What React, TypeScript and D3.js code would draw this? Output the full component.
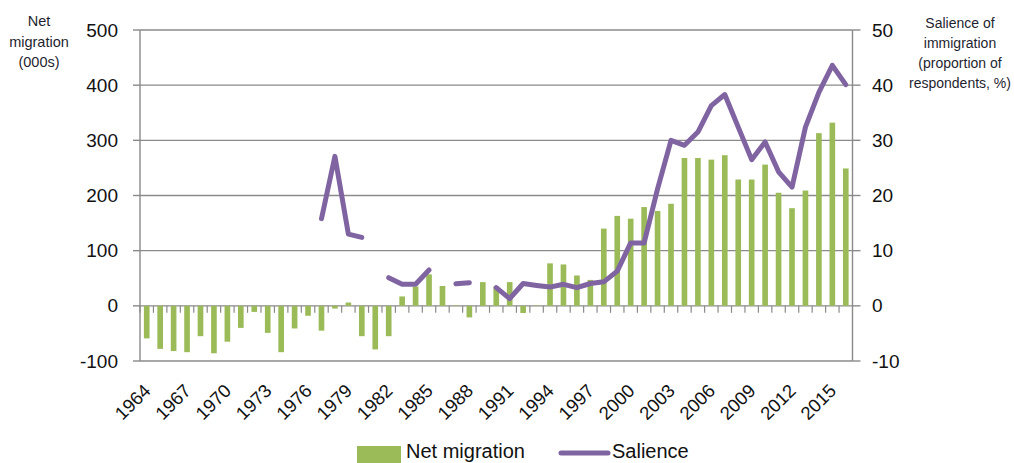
import React from 'react';
import * as d3 from 'd3';

const years = d3.range(1964, 2017).map(String);

// net migration, thousands
const netMigration = [
  -59, -78, -82, -84, -55, -86, -65, -40, -11, -49,
  -84, -41, -18, -45, -5, 6, -55, -79, -55, 17,
  35, 57, 36, 1, -21, 43, 35, 43, -13, 1,
  77, 75, 55, 47, 140, 163, 158, 179, 172, 185,
  268, 268, 265, 273, 229, 229, 256, 205, 177, 209,
  313, 332, 249,
];

// salience of immigration, % of respondents (null = no survey)
const salience: (number | null)[] = [
  null, null, null, null, null, null, null, null, null, null,
  null, null, null, 15.8, 27.1, 13.0, 12.4, null, 5.1, 3.9,
  3.9, 6.5, null, 4.0, 4.2, null, 3.3, 1.3, 4.05, 3.7,
  3.4, 3.9, 3.3, 4.05, 4.35, 6.3, 11.4, 11.4, 21.2, 30.0,
  29.1, 31.5, 36.3, 38.3, 32.4, 26.5, 29.7, 24.3, 21.5, 32.4,
  38.7, 43.6, 40.1,
];

const leftTicks = [-100, 0, 100, 200, 300, 400, 500];
const rightTicks = [-10, 0, 10, 20, 30, 40, 50];
const labelYears = years.filter((_, i) => i % 3 === 0);

const W = 1014;
const H = 463;
const left = 140;
const right = 852.5;
const top = 30;
const bottom = 361;

const GREEN = '#9bbb59';
const PURPLE = '#8064a2';
const GRID = '#8a8a8a';
const FONT = '"Liberation Sans", Arial, sans-serif';

export default function App() {
  const x = d3.scaleBand<string>().domain(years).range([left, right]).padding(0);
  const yL = d3.scaleLinear().domain([-100, 500]).range([bottom, top]);
  const yR = d3.scaleLinear().domain([-10, 50]).range([bottom, top]);
  const barW = x.bandwidth() * 0.42;
  const cx = (yr: string) => (x(yr) as number) + x.bandwidth() / 2;

  const line = d3
    .line<number | null>()
    .defined((d) => d != null)
    .x((_, i) => cx(years[i]))
    .y((d) => yR(d as number));

  return (
    <svg
      width={W}
      height={H}
      style={{ position: 'absolute', left: 0, top: 0, background: '#fff' }}
      fontFamily={FONT}
    >
      {/* gridlines */}
      {leftTicks.map((t) => (
        <line key={t} x1={left} x2={right} y1={yL(t)} y2={yL(t)} stroke={GRID} strokeWidth={1.4} />
      ))}
      {/* axes */}
      <line x1={left} x2={left} y1={top} y2={bottom} stroke={GRID} strokeWidth={1.4} />
      <line x1={right} x2={right} y1={top} y2={bottom} stroke={GRID} strokeWidth={1.4} />
      {leftTicks.map((t) => (
        <g key={'l' + t}>
          <line x1={left - 7} x2={left} y1={yL(t)} y2={yL(t)} stroke={GRID} strokeWidth={1.4} />
          <text x={118} y={yL(t) + 6.5} textAnchor="end" fontSize={19} fill="#111">
            {t}
          </text>
        </g>
      ))}
      {rightTicks.map((t) => (
        <g key={'r' + t}>
          <line x1={right} x2={right + 8} y1={yR(t)} y2={yR(t)} stroke={GRID} strokeWidth={1.4} />
          <text x={872} y={yR(t) + 6.5} textAnchor="start" fontSize={19} fill="#111">
            {t}
          </text>
        </g>
      ))}
      {/* category ticks on zero line */}
      {years.map((yr) => (
        <line
          key={'c' + yr}
          x1={x(yr)}
          x2={x(yr)}
          y1={yL(0)}
          y2={yL(0) + 7}
          stroke={GRID}
          strokeWidth={1.2}
        />
      ))}
      {/* bars */}
      {netMigration.map((v, i) => (
        <rect
          key={'b' + i}
          x={cx(years[i]) - barW / 2}
          y={Math.min(yL(v), yL(0))}
          width={barW}
          height={Math.abs(yL(v) - yL(0))}
          fill={GREEN}
        />
      ))}
      {/* salience line */}
      <path
        d={line(salience) || ''}
        fill="none"
        stroke={PURPLE}
        strokeWidth={5}
        strokeLinecap="round"
        strokeLinejoin="round"
      />
      {/* x labels */}
      {labelYears.map((yr) => (
        <text
          key={'x' + yr}
          transform={`translate(${cx(yr) + 5},392) rotate(-45)`}
          textAnchor="end"
          fontSize={18.5}
          fill="#111"
        >
          {yr}
        </text>
      ))}
      {/* axis titles */}
      <text textAnchor="middle" fontSize={14.5} fill="#1f1f2f">
        <tspan x={39} y={26}>Net</tspan>
        <tspan x={39} y={47}>migration</tspan>
        <tspan x={39} y={67}>(000s)</tspan>
      </text>
      <text textAnchor="middle" fontSize={14} fill="#1f1f2f">
        <tspan x={960} y={28}>Salience of</tspan>
        <tspan x={960} y={48}>immigration</tspan>
        <tspan x={960} y={68}>(proportion of</tspan>
        <tspan x={960} y={88}>respondents, %)</tspan>
      </text>
      {/* legend */}
      <rect x={357} y={446} width={44} height={17} fill={GREEN} />
      <text x={406} y={458} fontSize={20} fill="#111">
        Net migration
      </text>
      <line x1={561} x2={608} y1={453} y2={453} stroke={PURPLE} strokeWidth={5} strokeLinecap="round" />
      <text x={612} y={458} fontSize={20} fill="#111">
        Salience
      </text>
    </svg>
  );
}
